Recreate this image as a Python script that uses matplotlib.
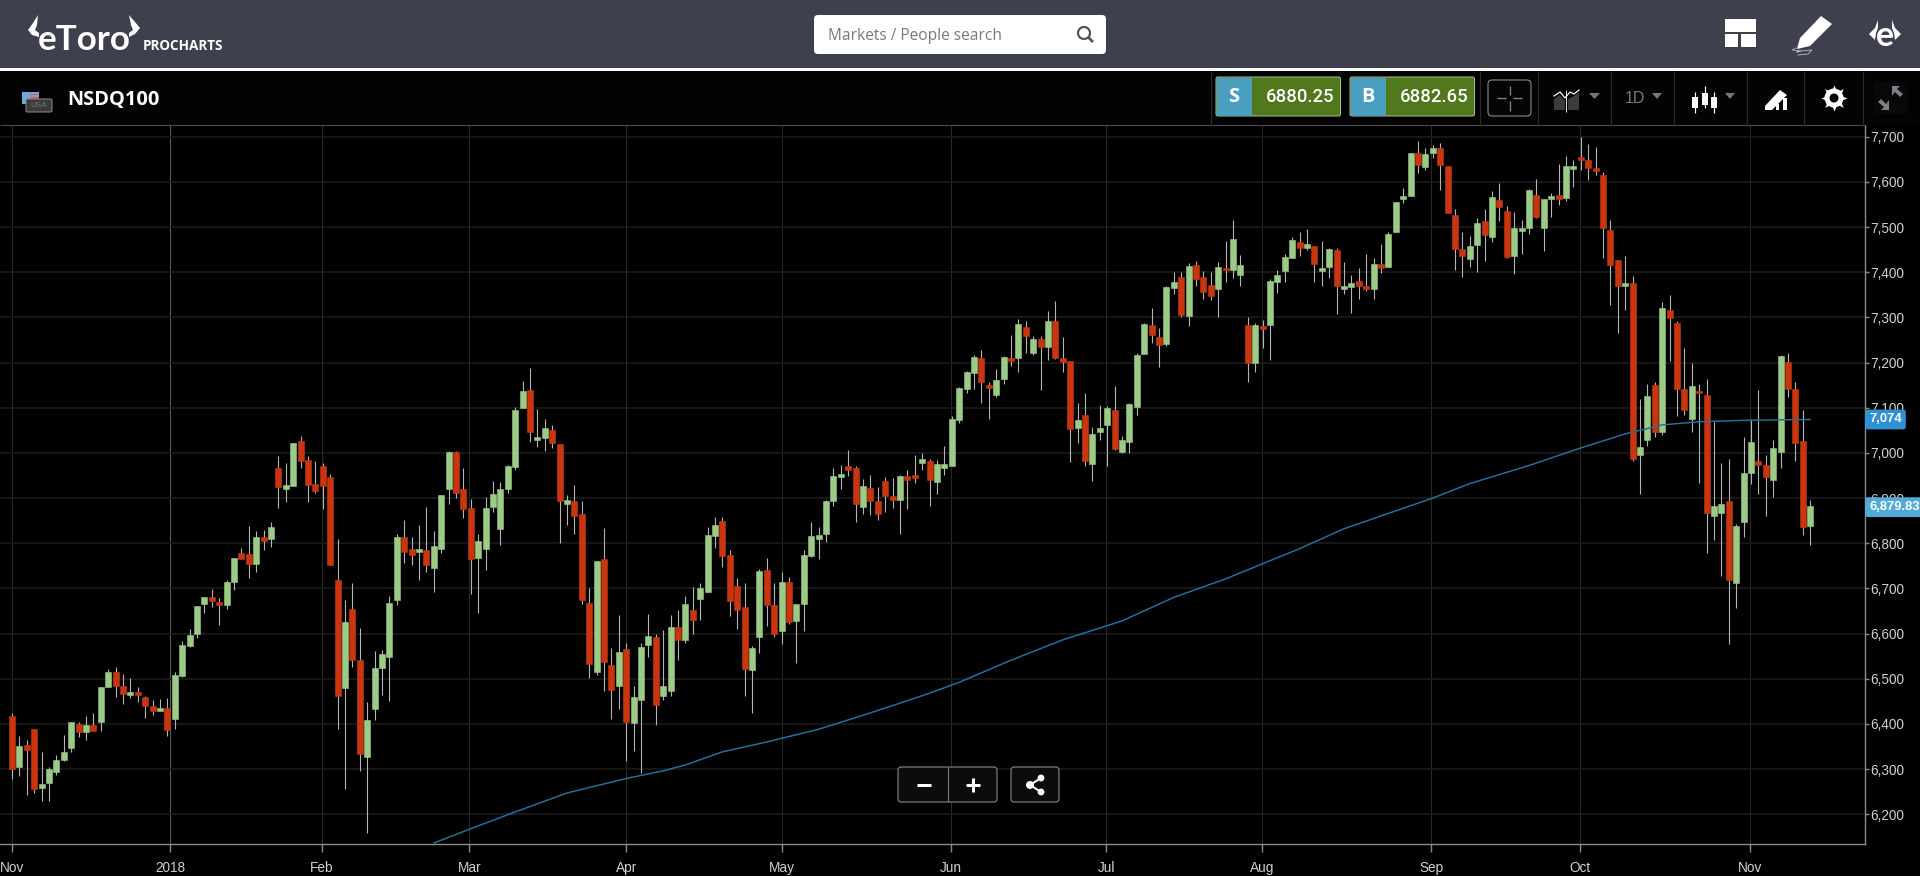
import matplotlib
matplotlib.use("Agg")
import matplotlib.pyplot as plt
from matplotlib.patches import FancyBboxPatch, Rectangle, Polygon, Circle

# ---------- data ----------
symbol = "NSDQ100"
sell_price = "6880.25"
buy_price = "6882.65"
last_price = 6879.83
ma_last = 7074

opens = [6418,6304,6353,6389,6259,6270,6294,6321,6347,6400,
 6381,6398,6404,6482,6515,6484,6464,6470,6459,6440,
 6428,6435,6411,6505,6572,6599,6665,6680,6670,6663,
 6714,6779,6776,6754,6814,6810,6966,6919,6926,7026,
 6985,6930,6971,6946,6718,6479,6655,6541,6327,6434,
 6524,6549,6675,6814,6788,6781,6786,6746,6788,6919,
 7002,6919,6879,6768,6788,6881,6831,6919,6969,7100,
 7139,7028,7033,7051,7019,6886,6894,6864,6668,6515,
 6766,6530,6484,6565,6403,6453,6575,6593,6461,6473,
 6615,6585,6653,6676,6693,6816,6850,6773,6705,6658,
 6519,6593,6740,6663,6605,6715,6628,6666,6771,6810,
 6821,6893,6946,6971,6966,6881,6923,6893,6938,6904,
 6896,6948,6950,6978,6983,6936,6966,6972,7073,7142,
 7177,7211,7150,7129,7164,7211,7210,7279,7221,7253,
 7234,7293,7209,7204,7054,7084,6976,7047,7061,7096,
 7001,7024,7101,7219,7284,7256,7242,7365,7390,7304,
 7415,7390,7372,7363,7410,7404,7393,7284,7200,7282,
 7283,7379,7403,7432,7466,7454,7459,7403,7412,7449,
 7363,7367,7381,7369,7363,7418,7412,7490,7562,7569,
 7665,7634,7664,7676,7636,7527,7451,7429,7460,7513,
 7477,7561,7536,7435,7492,7497,7571,7499,7562,7571,
 7564,7629,7655,7648,7630,7615,7493,7426,7370,7377,
 6996,7029,7151,7046,7317,7287,7141,7074,7138,7128,
 6861,6866,6893,6713,6847,6956,6981,6973,6941,7001,
 7202,7141,7026,6839]
closes = [6299,6351,6342,6256,6267,6299,6321,6338,6404,6381,
 6398,6384,6481,6515,6484,6466,6470,6464,6439,6428,
 6436,6386,6508,6575,6597,6660,6680,6671,6663,6715,
 6767,6766,6754,6813,6806,6836,6924,6929,7021,6982,
 6930,6916,6926,6752,6462,6625,6541,6334,6408,6524,
 6555,6667,6814,6781,6774,6788,6751,6793,6906,7002,
 6911,6876,6764,6806,6879,6909,6921,6971,7096,7136,
 7046,7036,7054,7022,6894,6896,6861,6674,6533,6761,
 6536,6475,6560,6404,6460,6570,6595,6441,6484,6615,
 6586,6665,6631,6700,6818,6840,6771,6671,6653,6521,
 6568,6739,6663,6600,6715,6625,6666,6773,6816,6819,
 6893,6948,6953,6961,6886,6926,6893,6864,6904,6896,
 6948,6941,6944,6986,6939,6975,6976,7076,7144,7179,
 7213,7157,7144,7161,7213,7204,7286,7259,7253,7235,
 7293,7209,7201,7052,7073,6981,7041,7056,7099,7009,
 7028,7108,7216,7286,7260,7239,7367,7378,7305,7413,
 7385,7356,7348,7412,7404,7473,7417,7200,7284,7275,
 7381,7394,7433,7471,7454,7462,7418,7409,7451,7370,
 7369,7376,7370,7363,7418,7409,7484,7555,7568,7665,
 7637,7661,7676,7637,7531,7451,7435,7459,7510,7482,
 7566,7545,7434,7499,7499,7581,7522,7563,7569,7562,
 7635,7636,7649,7631,7625,7497,7415,7370,7377,6987,
 7014,7127,7046,7320,7298,7142,7096,7148,7132,6867,
 6883,6886,6719,6839,6955,7024,6974,6947,7010,7214,
 7142,7021,6835,6883]
highs = [6425,6373,6364,6389,6337,6304,6331,6375,6405,6405,
 6417,6423,6481,6522,6525,6510,6501,6482,6462,6453,
 6455,6457,6515,6583,6609,6660,6680,6698,6678,6718,
 6768,6790,6838,6827,6829,6847,6993,6978,7022,7037,
 6994,6982,6978,6954,6810,6674,6713,6613,6449,6562,
 6563,6683,6821,6852,6814,6840,6880,6826,6906,7004,
 7005,6967,6897,6821,6902,6938,6935,6974,7102,7159,
 7189,7098,7076,7062,7019,6907,6928,6893,6700,6761,
 6833,6567,6641,6578,6484,6579,6643,6600,6607,6641,
 6653,6684,6704,6711,6837,6859,6859,6784,6723,6713,
 6573,6743,6767,6713,6736,6726,6666,6784,6848,6835,
 6896,6967,6973,7007,6970,6942,6950,6924,6947,6944,
 6952,6963,6995,7000,6987,6985,7015,7081,7145,7182,
 7217,7228,7158,7185,7215,7261,7296,7293,7259,7258,
 7314,7337,7256,7204,7111,7133,7058,7105,7104,7148,
 7037,7110,7221,7287,7321,7276,7370,7400,7400,7421,
 7424,7402,7401,7422,7470,7516,7439,7300,7287,7294,
 7385,7405,7440,7477,7488,7496,7459,7469,7454,7453,
 7422,7394,7409,7440,7431,7462,7488,7555,7586,7665,
 7690,7674,7682,7687,7636,7539,7490,7480,7519,7539,
 7580,7597,7547,7533,7516,7584,7606,7563,7575,7639,
 7657,7648,7700,7685,7677,7621,7516,7426,7435,7392,
 7120,7152,7157,7335,7350,7291,7233,7199,7152,7164,
 7069,6978,6987,6843,7035,7074,7139,6995,7028,7217,
 7221,7158,7096,6896]
lows = [6279,6285,6242,6248,6230,6230,6287,6318,6338,6370,
 6364,6384,6384,6481,6460,6444,6457,6448,6414,6420,
 6428,6374,6389,6503,6571,6590,6645,6658,6619,6655,
 6696,6765,6722,6737,6785,6792,6878,6892,6926,6967,
 6892,6912,6875,6752,6389,6256,6527,6296,6159,6408,
 6465,6451,6664,6756,6752,6719,6736,6691,6778,6887,
 6900,6856,6687,6645,6741,6870,6797,6911,6962,7100,
 7025,7013,7004,7010,6800,6841,6821,6665,6502,6508,
 6473,6410,6434,6317,6341,6292,6548,6398,6452,6461,
 6541,6579,6598,6631,6691,6790,6748,6639,6611,6462,
 6424,6556,6617,6593,6576,6622,6535,6606,6770,6766,
 6803,6883,6920,6948,6848,6864,6863,6851,6870,6879,
 6820,6876,6933,6963,6883,6910,6950,6972,7067,7132,
 7142,7111,7074,7124,7152,7193,7180,7222,7216,7139,
 7206,7207,7180,6979,7022,6970,6938,7028,6970,7007,
 7000,7000,7084,7218,7244,7190,7236,7352,7301,7280,
 7369,7341,7339,7301,7378,7387,7369,7158,7179,7232,
 7206,7353,7378,7432,7435,7449,7379,7370,7388,7308,
 7351,7309,7341,7359,7341,7398,7411,7490,7553,7569,
 7619,7626,7654,7582,7531,7405,7390,7412,7401,7425,
 7468,7513,7431,7395,7441,7484,7519,7446,7523,7549,
 7558,7589,7626,7604,7615,7432,7327,7266,7317,6983,
 6910,7016,7036,7040,7204,7081,7083,7046,6933,6778,
 6807,6727,6576,6656,6813,6931,6909,6861,6902,6967,
 7124,6981,6819,6795]

ma_days = [57,62,68,75,83,88,91,96,102,109,115,120,124,128,135,142,150,157,164,174,180,192,197,205,212,218,223,228,234,243]
ma_vals = [6136,6168,6205,6247,6279,6296,6309,6338,6360,6388,6419,6446,6468,6492,
           6541,6586,6628,6680,6721,6788,6832,6900,6932,6972,7011,7042,7062,7069,7072,7074]

month_pos = [0,21.35,41.9,61.8,83,104,126.9,147.9,168.9,191.8,211.9,234.9]
month_labels = ["Nov","2018","Feb","Mar","Apr","May","Jun","Jul","Aug","Sep","Oct","Nov"]
price_ticks = list(range(6200,7800,100))

# ---------- colours ----------
GREEN, RED = "#9ccb87", "#c8350f"
WICK = "#b4b4b4"
HEADER = "#3e404d"
px = 0.72  # points per pixel at dpi 100

plt.rcParams["font.family"] = ["Liberation Sans", "DejaVu Sans"]
fig = plt.figure(figsize=(19.2, 8.76), dpi=100, facecolor="black")

# ---------- chart ----------
ax = fig.add_axes([0, (876-844)/876, 1865/1920, (844-125)/876], facecolor="black")
ax.set_xlim(-12/7.4, (1865-12)/7.4)
ax.set_ylim(6134, 7726)
ax.set_axisbelow(True)
ax.yaxis.tick_right()
ax.set_yticks(price_ticks, [f"{v:,}" for v in price_ticks])
ax.set_xticks(month_pos, month_labels)
ax.tick_params(axis="y", length=3, width=1, color="#8a8a8a", labelcolor="#d0d0d0",
               labelsize=13.6*px, pad=1)
ax.tick_params(axis="x", length=6, width=1, color="#8a8a8a", labelcolor="#d0d0d0",
               labelsize=13.6*px, pad=6)
ax.grid(True, axis="y", color="#1c1c1c", lw=1.6*px)
ax.grid(True, axis="x", color="#282828", lw=1.1*px)
for gl, lab in zip(ax.get_xgridlines(), month_labels):
    if lab == "2018":
        gl.set_color("#5a5a5a")
for s in ("top", "left"):
    ax.spines[s].set_visible(False)
for s in ("bottom", "right"):
    ax.spines[s].set_color("#8a8a8a")
    ax.spines[s].set_linewidth(1.4*px)

idx = list(range(len(opens)))
ax.vlines(idx, lows, highs, color=WICK, lw=1.1*px, zorder=2)
bottoms = [min(o, c) for o, c in zip(opens, closes)]
heights = [abs(c-o) for o, c in zip(opens, closes)]
cols = [GREEN if c >= o else RED for o, c in zip(opens, closes)]
ax.bar(idx, heights, bottom=bottoms, width=0.8, color=cols, edgecolor=cols, lw=0.4, zorder=3)
ax.plot(ma_days, ma_vals, color="#23709f", lw=1.5*px, zorder=4)

for val, txt, col in ((ma_last, f"{ma_last:,}", "#2e90d6"),
                      (last_price, f"{last_price:,.2f}", "#52aadb")):
    ax.annotate(txt, xy=(1, val), xycoords=ax.get_yaxis_transform(),
                xytext=(3.0, 0), textcoords="offset points", va="center", ha="left",
                color="white", fontsize=13*px, weight="bold", zorder=10,
                bbox=dict(boxstyle="round,pad=0.3,rounding_size=0.2", fc=col, ec="none"),
                annotation_clip=False)

# ---------- interface layer, in pixel coordinates ----------
ui = fig.add_axes([0, 0, 1, 1], facecolor="none", zorder=5)
ui.set_xlim(0, 1920); ui.set_ylim(876, 0); ui.axis("off")

def rect(x0, y0, x1, y1, fc, ec="none", lw=0, z=1):
    ui.add_patch(Rectangle((x0, y0), x1-x0, y1-y0, fc=fc, ec=ec, lw=lw, zorder=z))

def rbox(x0, y0, x1, y1, fc, ec="none", lw=1, r=3, z=2):
    ui.add_patch(FancyBboxPatch((x0+r, y0+r), x1-x0-2*r, y1-y0-2*r,
                 boxstyle=f"round,pad={r},rounding_size={r}", fc=fc, ec=ec, lw=lw*px, zorder=z))

def poly(pts, fc="white", z=3, ec="none", lw=0):
    ui.add_patch(Polygon(pts, closed=True, fc=fc, ec=ec, lw=lw, zorder=z))

def seg(xs, ys, c="white", lw=1.5, z=3):
    ui.plot(xs, ys, color=c, lw=lw*px, zorder=z, solid_capstyle="butt")

rect(0, 0, 1920, 67.5, HEADER)
rect(0, 68, 1920, 71, "white")
rect(0, 71, 1920, 125, "#030303")
seg([0, 1865], [125.3, 125.3], "#4a4a4a", 1.2)

# logo
ui.text(38, 49.5, "eToro", color="white", family="Lato", weight="bold", fontsize=35*px,
        va="baseline", zorder=3)
poly([(39,37),(32,35),(28,30),(33,23),(38,15),(37,25),(35,30),(39,33)])
poly([(129,37),(135,34),(140,28),(135,22),(129,15),(131,25),(133,30),(129,33)])
ui.text(143, 50, "PROCHARTS", color="white", family="Open Sans", weight="bold",
        fontsize=13.5*px, va="baseline", zorder=3)

# search box
rbox(814, 15, 1106, 54, "white", r=4)
ui.text(828, 36, "Markets / People search", color="#7a7a7a", family="Open Sans",
        fontsize=15.5*px, va="center", zorder=3)
ui.add_patch(Circle((1084, 33), 6, fc="none", ec="#555555", lw=2.2*px, zorder=3))
seg([1088.5, 1093], [37.5, 42], "#555555", 2.8)

# header icons
rect(1725, 19, 1756, 32, "white", z=3)
rect(1725, 34, 1738, 47, "white", z=3)
rect(1741, 34, 1756, 47, "white", z=3)
poly([(1797,49),(1800,38),(1821,16),(1832,24),(1810,46)])
poly([(1796,53),(1798,50),(1802,51)], fc="#cccccc")
ui.plot([1796,1792,1800,1812,1808,1798], [48,50,51,50,54,55], color="#aaaaaa", lw=1*px, zorder=3)
ui.text(1885, 36, "e", color="white", family="Lato", weight="bold", fontsize=34*px,
        ha="center", va="center", zorder=3)
poly([(1875,40),(1869,34),(1875,28),(1878,20),(1878,28),(1876,33)])
poly([(1895,40),(1901,34),(1895,28),(1892,20),(1892,28),(1894,33)])

# symbol
rect(22, 92, 39, 104, "#6fa8dc", z=3)
for yy in (93.5, 97, 100.5):
    rect(30, yy, 39, yy+1.6, "#d9534f", z=4)
rbox(26, 99, 52, 112, "#3a3a3a", ec="#8a8a8a", lw=1, r=1.5, z=5)
ui.text(39, 105.5, "USA", color="#777777", fontsize=8*px, ha="center", va="center", zorder=6)
ui.text(67, 100.5, symbol, color="white", family="Open Sans", weight="bold",
        fontsize=20*px, va="center", zorder=3)

# separators
for xs in (1211, 1480, 1538, 1611, 1674, 1747, 1804, 1863):
    seg([xs, xs], [71, 126], "#2a2a2a", 1.2)

# sell / buy
for x0, letter, price in ((1216, "S", sell_price), (1350, "B", buy_price)):
    rbox(x0, 77, x0+124.5, 116, "#52781e", ec="#a8b89a", lw=1, r=2)
    rect(x0+0.5, 77.5, x0+36, 116, "#4a9fc0", z=3)
    ui.text(x0+18, 97.5, letter, color="white", family="Open Sans", weight="bold",
            fontsize=20*px, ha="center", va="center", zorder=4)
    ui.text(x0+84, 97, price, color="white", family="Roboto", weight="medium", fontsize=18.5*px,
            ha="center", va="center", zorder=4)

# crosshair
rbox(1488, 80, 1531, 116, "#050505", ec="#9a9a9a", lw=1, r=4)
seg([1509.5, 1509.5], [86, 95], "#888888", 1.3); seg([1509.5, 1509.5], [101, 111], "#888888", 1.3)
seg([1497, 1506], [98, 98], "#888888", 1.3); seg([1513, 1522], [98, 98], "#888888", 1.3)

# indicator icon
poly([(1554,110),(1554,99),(1560,95),(1565,101),(1565,110)], fc="#3c3c3c")
poly([(1568,110),(1568,99),(1574,96),(1579,92),(1579,110)], fc="#3c3c3c")
ui.plot([1554,1560,1565,1570,1574,1579], [96,92,98,92,94,90], color="white", lw=1.2*px, zorder=4)
seg([1566, 1566], [90, 112], "#dddddd", 1)
poly([(1589,93),(1600,93),(1594.5,99)], fc="#777777")

# period
ui.text(1635, 98.5, "1D", color="#777777", fontsize=16*px, ha="center", va="center", zorder=3)
poly([(1652,93),(1662,93),(1657,99)], fc="#777777")

# candle icon
for cx, t, b, wt, wb in ((1695, 97, 108, 92, 113), (1705, 93, 105, 86, 108), (1714, 97, 108, 92, 113)):
    seg([cx, cx], [wt, wb], "white", 1.2)
    rect(cx-3, t, cx+3, b, "white", z=4)
poly([(1725,93),(1735,93),(1730,99)], fc="#777777")

# draw icon
poly([(1765,106),(1780,90),(1787,95),(1772,110),(1765,110)])
rect(1776, 104, 1779, 110, "white", z=4); rect(1783, 98, 1787, 110, "white", z=4)

# gear
ui.scatter([1834], [98], s=360, marker=(8, 1, 0), color="white", zorder=3, lw=0)
ui.add_patch(Circle((1834, 98), 9.5, fc="white", ec="none", zorder=3))
ui.add_patch(Circle((1834, 98), 4.5, fc="#030303", ec="none", zorder=4))

# compress arrows
rect(1874, 82, 1908, 114, "#080808", z=2)
poly([(1892,86),(1900,86),(1897,89),(1903,94),(1900,97),(1895,92),(1892,96)], fc="#7b7f88")
poly([(1889,110),(1881,110),(1884,107),(1878,102),(1881,99),(1886,104),(1889,100)], fc="#7b7f88")

# zoom buttons
rbox(898, 767, 997, 802, "#0c0c0c", ec="#8a8a8a", lw=1.1, r=3, z=6)
seg([948, 948], [767, 802], "#777777", 1.1, z=7)
seg([917, 931], [785, 785], "white", 3, z=7)
seg([966, 980], [785, 785], "white", 3, z=7); seg([973, 973], [778, 792], "white", 3, z=7)
rbox(1011, 767, 1059, 802, "#0c0c0c", ec="#8a8a8a", lw=1.1, r=3, z=6)
seg([1030, 1041], [785, 778], "white", 2, z=7); seg([1030, 1041], [785, 792], "white", 2, z=7)
for cx, cy, r in ((1030, 785, 4), (1041, 778, 3.4), (1041, 792, 3.4)):
    ui.add_patch(Circle((cx, cy), r, fc="white", ec="none", zorder=8))

fig.savefig("out.png", dpi=100, facecolor="black")
